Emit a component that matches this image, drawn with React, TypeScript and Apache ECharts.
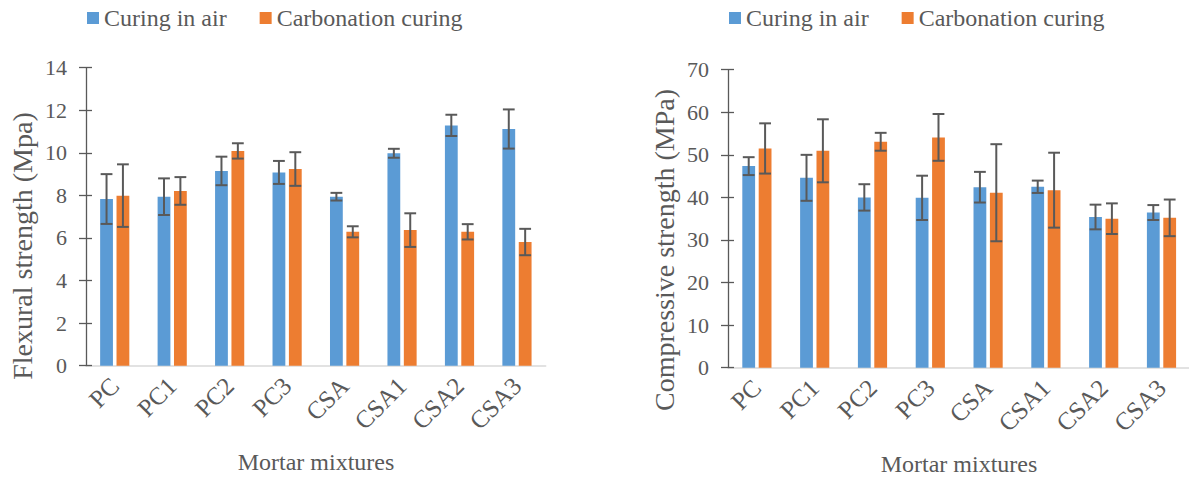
import React, { useEffect, useRef } from "react";
import * as echarts from "echarts";

const categories = ["PC", "PC1", "PC2", "PC3", "CSA", "CSA1", "CSA2", "CSA3"];
const seriesNames = ["Curing in air", "Carbonation curing"];

const flexAir = [7.83, 7.94, 9.15, 9.08, 7.94, 9.98, 11.29, 11.12];
const flexAirErr = [1.17, 0.86, 0.67, 0.54, 0.18, 0.21, 0.5, 0.92];
const flexCarb = [7.99, 8.21, 10.09, 9.24, 6.29, 6.37, 6.29, 5.81];
const flexCarbErr = [1.47, 0.65, 0.36, 0.79, 0.26, 0.79, 0.36, 0.62];

const compAir = [47.35, 44.6, 40.0, 39.9, 42.4, 42.5, 35.4, 36.45];
const compAirErr = [2.1, 5.4, 3.1, 5.2, 3.6, 1.45, 2.9, 1.75];
const compCarb = [51.5, 50.95, 53.07, 54.1, 41.1, 41.7, 35.0, 35.2];
const compCarbErr = [5.9, 7.4, 2.1, 5.5, 11.4, 8.8, 3.6, 4.3];

const flexTicks = { min: 0, max: 14, interval: 2 };
const compTicks = { min: 0, max: 70, interval: 10 };

const BLUE = "#5B9BD5";
const ORANGE = "#ED7D31";
const GREY = "#595959";
const FONT = "Liberation Serif";
const BAR_W = 12.8;
const BAR_GAP = 0.28;

function errSeries(values: number[], errs: number[], side: number, xi: number, yi: number) {
  const off = side * (BAR_W + BAR_W * BAR_GAP) / 2;
  return {
    type: "custom",
    xAxisIndex: xi,
    yAxisIndex: yi,
    z: 10,
    silent: true,
    data: values.map((v, i) => [i, v, errs[i]]),
    encode: { x: 0, y: 1 },
    renderItem: (params: any, api: any) => {
      const x = api.value(0);
      const v = api.value(1);
      const e = api.value(2);
      const top = api.coord([x, v + e]);
      const bot = api.coord([x, v - e]);
      const cx = top[0] + off;
      const hw = BAR_W / 2 - 0.5;
      const style = { stroke: GREY, lineWidth: 2 };
      return {
        type: "group",
        children: [
          { type: "line", shape: { x1: cx, y1: top[1], x2: cx, y2: bot[1] }, style },
          { type: "line", shape: { x1: cx - hw, y1: top[1], x2: cx + hw, y2: top[1] }, style },
          { type: "line", shape: { x1: cx - hw, y1: bot[1], x2: cx + hw, y2: bot[1] }, style },
        ],
      };
    },
  };
}

function xAxisFor(gridIndex: number) {
  return {
    type: "category",
    gridIndex,
    data: categories,
    axisLine: { show: true, lineStyle: { color: "#d9d9d9", width: 1.5 } },
    axisTick: { show: false },
    axisLabel: { rotate: 45, margin: 16, color: GREY, fontSize: 25, fontFamily: FONT },
  };
}

function yAxisFor(gridIndex: number, t: any) {
  return {
    type: "value",
    gridIndex,
    min: t.min,
    max: t.max,
    interval: t.interval,
    axisLine: { show: true, lineStyle: { color: GREY, width: 1.3 } },
    axisTick: { show: true, length: 7, lineStyle: { color: GREY, width: 1.3 } },
    splitLine: { show: false },
    axisLabel: { margin: 19, color: GREY, fontSize: 22, fontFamily: FONT },
  };
}

function yAxisInner(gridIndex: number, t: any) {
  return {
    type: "value",
    gridIndex,
    min: t.min,
    max: t.max,
    interval: t.interval,
    position: "left",
    axisLine: { show: false },
    axisTick: { show: true, inside: true, length: 6, lineStyle: { color: GREY, width: 1.3 } },
    splitLine: { show: false },
    axisLabel: { show: false },
  };
}

function barSeries(name: string, data: number[], color: string, xi: number, yi: number) {
  return {
    type: "bar",
    name,
    xAxisIndex: xi,
    yAxisIndex: yi,
    data,
    barWidth: BAR_W,
    barGap: BAR_GAP * 100 + "%",
    itemStyle: { color },
  };
}

function legendAt(left: number) {
  return {
    left,
    top: 1,
    icon: "rect",
    itemWidth: 12,
    itemHeight: 12,
    itemGap: 33,
    data: seriesNames,
    textStyle: { color: GREY, fontSize: 24, fontFamily: FONT },
  };
}

function label(text: string, x: number, y: number, size: number, vertical: boolean) {
  return {
    type: "text",
    x,
    y,
    rotation: vertical ? Math.PI / 2 : 0,
    style: {
      text,
      fill: GREY,
      font: `${size}px ${FONT}`,
      textAlign: "center",
      textVerticalAlign: "middle",
    },
  };
}

export default function App() {
  const ref = useRef<HTMLDivElement>(null);
  useEffect(() => {
    if (!ref.current) return;
    const chart = echarts.init(ref.current, undefined, { renderer: "svg" });
    chart.setOption({
      animation: false,
      backgroundColor: "#ffffff",
      textStyle: { fontFamily: FONT },
      legend: [legendAt(82), legendAt(724)],
      grid: [
        { left: 86, top: 67.7, width: 459.7, height: 298, containLabel: false, outerBoundsMode: "none" },
        { left: 728, top: 69.7, width: 462.4, height: 298, containLabel: false, outerBoundsMode: "none" },
      ],
      xAxis: [xAxisFor(0), xAxisFor(1)],
      yAxis: [yAxisFor(0, flexTicks), yAxisFor(1, compTicks), yAxisInner(0, flexTicks), yAxisInner(1, compTicks)],
      graphic: [
        label("Flexural strength (Mpa)", 22.5, 246, 28, true),
        label("Compressive strength (MPa)", 664, 250, 28, true),
        label("Mortar mixtures", 316, 462, 24, false),
        label("Mortar mixtures", 959, 464, 24, false),
      ],
      series: [
        barSeries(seriesNames[0], flexAir, BLUE, 0, 0),
        barSeries(seriesNames[1], flexCarb, ORANGE, 0, 0),
        barSeries(seriesNames[0], compAir, BLUE, 1, 1),
        barSeries(seriesNames[1], compCarb, ORANGE, 1, 1),
        errSeries(flexAir, flexAirErr, -1, 0, 0),
        errSeries(flexCarb, flexCarbErr, 1, 0, 0),
        errSeries(compAir, compAirErr, -1, 1, 1),
        errSeries(compCarb, compCarbErr, 1, 1, 1),
      ],
    });
    return () => chart.dispose();
  }, []);
  return (
    <div
      ref={ref}
      style={{ position: "absolute", left: 0, top: 0, width: 1189, height: 478, background: "#fff" }}
    />
  );
}
